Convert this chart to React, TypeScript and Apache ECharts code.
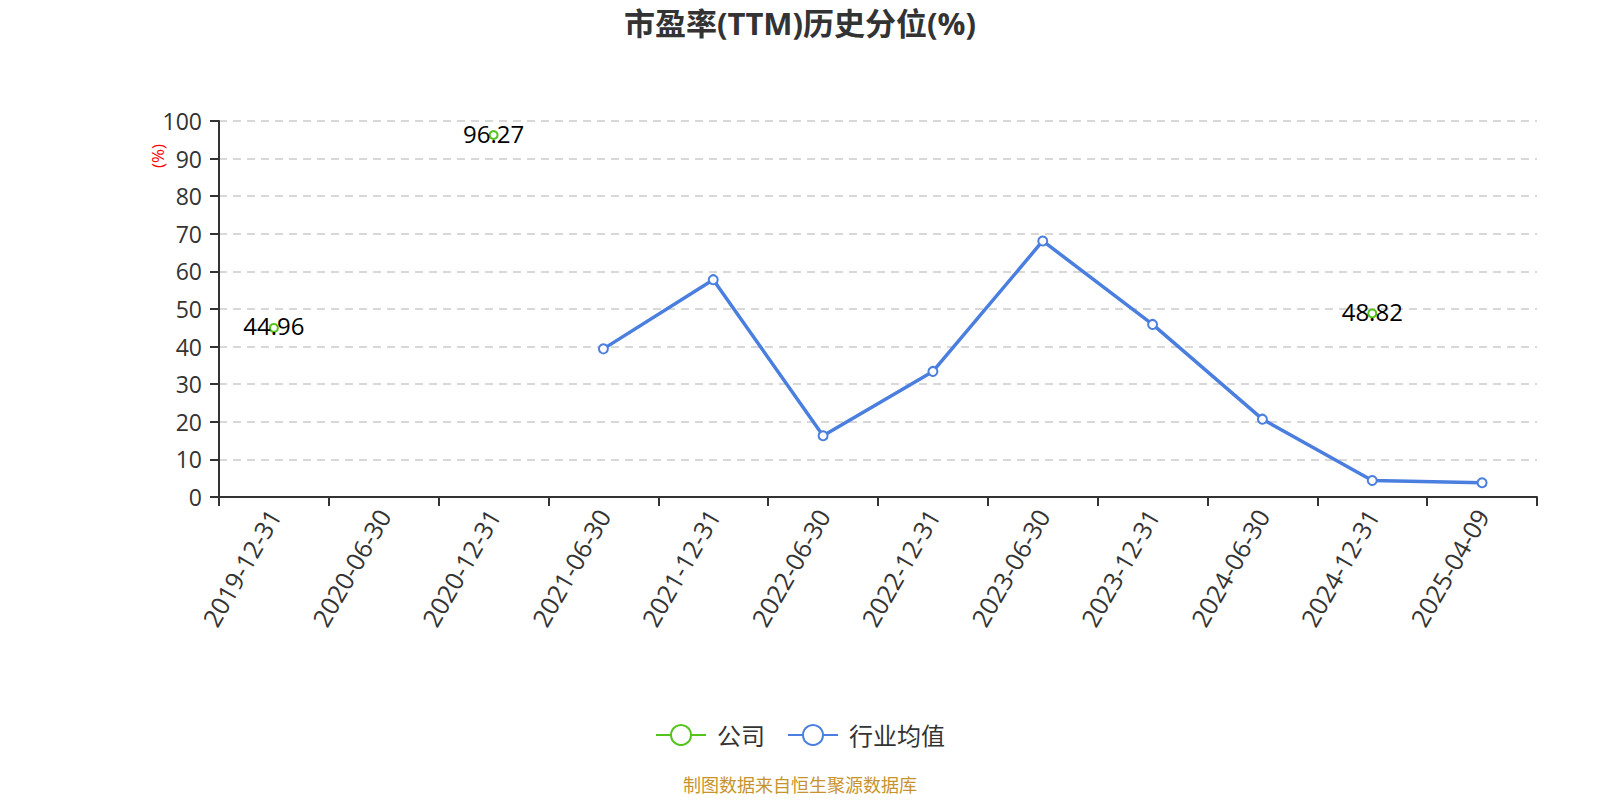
import React, { useEffect, useRef } from "react";
import * as echarts from "echarts";

const categories = [
  "2019-12-31", "2020-06-30", "2020-12-31", "2021-06-30", "2021-12-31", "2022-06-30",
  "2022-12-31", "2023-06-30", "2023-12-31", "2024-06-30", "2024-12-31", "2025-04-09",
];
const companyValues: (number | null)[] = [44.96, null, 96.27, null, null, null, null, null, null, null, 48.82, null];
const industryValues: (number | null)[] = [null, null, null, 39.4, 57.8, 16.3, 33.4, 68.1, 45.9, 20.7, 4.4, 3.8];
const titleText = "市盈率(TTM)历史分位(%)";
const sourceText = "制图数据来自恒生聚源数据库";
const yAxisName = "(%)";
const legendNames = ["公司", "行业均值"];

const FONT = "'Open Sans', 'Noto Sans CJK SC', sans-serif";

export default function App() {
  const ref = useRef<HTMLDivElement>(null);
  useEffect(() => {
    document.body.style.margin = "0";
    const chart = echarts.init(ref.current!, null, { renderer: "svg" });
    chart.setOption({
      animation: false,
      textStyle: { fontFamily: FONT },
      title: {
        text: titleText,
        left: "center",
        top: 2,
        textStyle: { fontSize: 31, fontWeight: "bold", color: "#333", fontFamily: FONT },
      },
      legend: {
        data: legendNames,
        top: 718,
        left: "center",
        itemWidth: 50,
        itemHeight: 25,
        itemGap: 22,
        textStyle: { fontSize: 24, color: "#333", fontFamily: FONT, padding: [0, 0, 0, 6] },
      },
      graphic: [
        {
          type: "text",
          left: "center",
          top: 776,
          style: { text: sourceText, fontSize: 18, fill: "#c8932e", fontFamily: FONT },
        },
        {
          type: "text",
          x: 157,
          y: 156,
          rotation: Math.PI / 2,
          style: {
            text: yAxisName,
            fontSize: 17,
            fill: "red",
            fontFamily: FONT,
            align: "center",
            verticalAlign: "middle",
          },
        },
      ],
      grid: { left: 219, right: 63, top: 121, bottom: 303, containLabel: false },
      xAxis: {
        type: "category",
        data: categories,
        boundaryGap: true,
        axisLine: { lineStyle: { color: "#333", width: 2 } },
        axisTick: { show: true, alignWithLabel: false, length: 9, lineStyle: { width: 2 } },
        axisLabel: { rotate: 60, fontSize: 25, color: "#333", margin: 14, interval: 0, fontFamily: FONT },
      },
      yAxis: {
        type: "value",
        min: 0,
        max: 100,
        interval: 10,
        axisLine: { show: true, lineStyle: { color: "#333", width: 2 } },
        axisTick: { show: true, length: 9, lineStyle: { width: 2 } },
        axisLabel: { fontSize: 23, color: "#333", margin: 17, fontFamily: FONT },
        splitLine: { show: true, lineStyle: { type: [8, 6], color: "#ccc", width: 1.5 } },
      },
      series: [
        {
          name: legendNames[0],
          type: "line",
          data: companyValues,
          symbol: "emptyCircle",
          symbolSize: 8,
          connectNulls: false,
          itemStyle: { color: "#52c41a" },
          lineStyle: { width: 3, color: "#52c41a" },
          label: { show: true, position: "inside", fontSize: 24, color: "#000", fontFamily: FONT, offset: [0, -2] },
        },
        {
          name: legendNames[1],
          type: "line",
          data: industryValues,
          symbol: "emptyCircle",
          symbolSize: 9,
          itemStyle: { color: "#4a7fe0" },
          lineStyle: { width: 3.5, color: "#4a7fe0" },
        },
      ],
    });
    return () => chart.dispose();
  }, []);
  return <div ref={ref} style={{ width: 1600, height: 800 }} />;
}
